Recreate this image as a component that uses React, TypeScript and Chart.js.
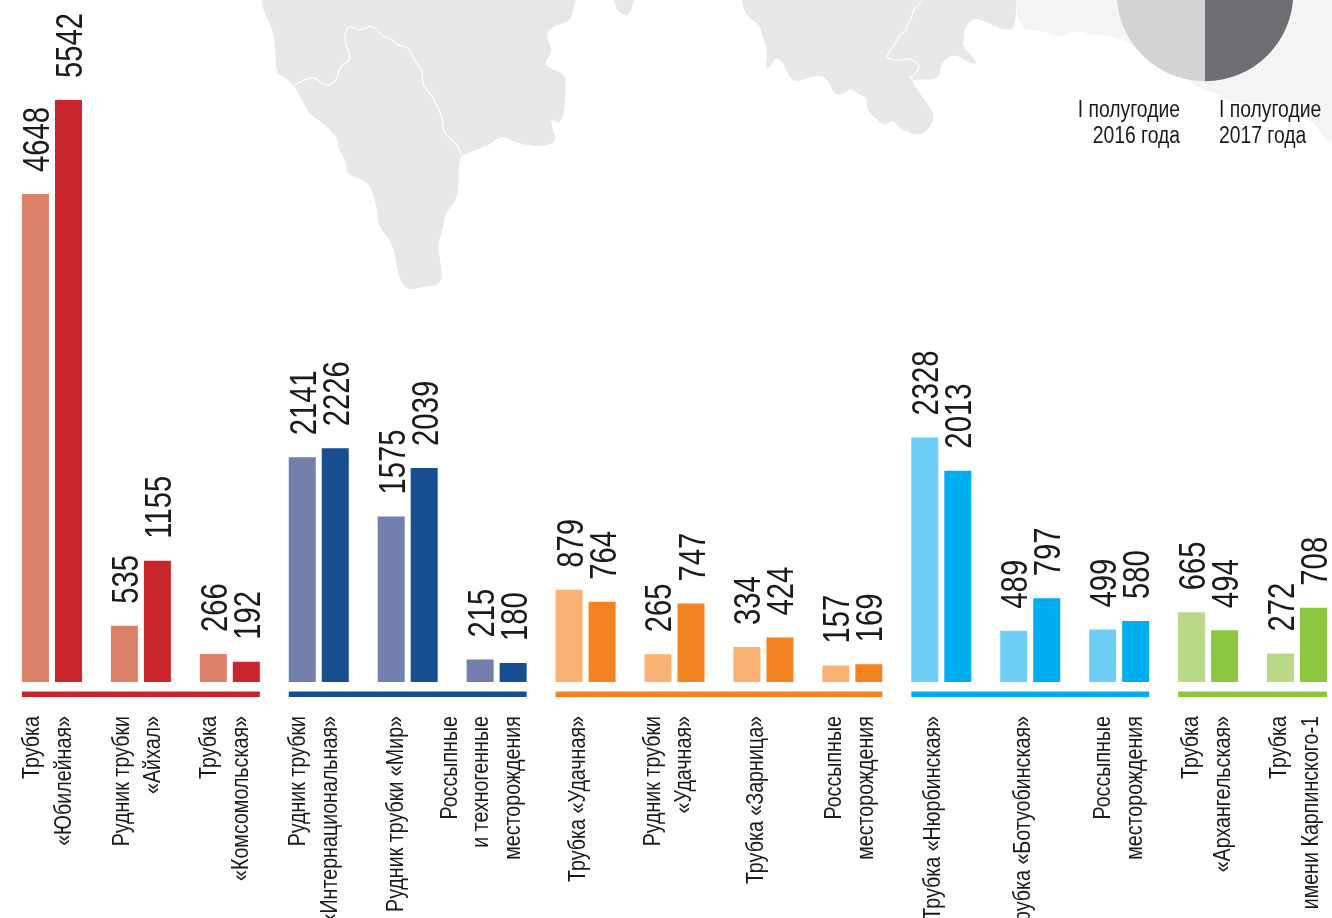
import React, { useEffect, useRef } from "react";
import { Chart, registerables } from "chart.js";

Chart.register(...registerables);

const categories: string[][] = [
  ["Трубка", "«Юбилейная»"],
  ["Рудник трубки", "«Айхал»"],
  ["Трубка", "«Комсомольская»"],
  ["Рудник трубки", "«Интернациональная»"],
  ["Рудник трубки «Мир»"],
  ["Россыпные", "и техногенные", "месторождения"],
  ["Трубка «Удачная»"],
  ["Рудник трубки", "«Удачная»"],
  ["Трубка «Зарница»"],
  ["Россыпные", "месторождения"],
  ["Трубка «Нюрбинская»"],
  ["Трубка «Ботуобинская»"],
  ["Россыпные", "месторождения"],
  ["Трубка", "«Архангельская»"],
  ["Трубка", "имени Карпинского-1"],
];
const values2016 = [4648, 535, 266, 2141, 1575, 215, 879, 265, 334, 157, 2328, 489, 499, 665, 272];
const values2017 = [5542, 1155, 192, 2226, 2039, 180, 764, 747, 424, 169, 2013, 797, 580, 494, 708];
const pieLabels = ["I полугодие 2017 года", "I полугодие 2016 года"];
const pieValues = [50, 50];
const yMax = 6495;

const groups = [
  { from: 0, to: 2, light: "#dc8068", dark: "#c9252c" },
  { from: 3, to: 5, light: "#737fad", dark: "#164e8f" },
  { from: 6, to: 9, light: "#fab274", dark: "#f58220" },
  { from: 10, to: 12, light: "#6dcff6", dark: "#00aeef" },
  { from: 13, to: 14, light: "#b9d989", dark: "#8dc63f" },
];
const colorFor = (key: "light" | "dark") =>
  categories.map((_, i) => groups.find((g) => i >= g.from && i <= g.to)![key]);

const labelShift = [-5, -4.5, -6, -6, -12.5, -16.5, -8.5, -7, -8.5, -3.5, -9, -8, -1, -2, -3];

const FONT = '"Liberation Sans Narrow", "Liberation Sans", sans-serif';
const TEXT = "#1a1a1a";

function put(
  ctx: CanvasRenderingContext2D,
  text: string,
  x: number,
  y: number,
  size: number,
  squeeze: number,
  rotated: boolean,
  align: CanvasTextAlign
) {
  ctx.save();
  ctx.translate(x, y);
  if (rotated) ctx.rotate(-Math.PI / 2);
  ctx.scale(squeeze, 1);
  ctx.font = `${size}px ${FONT}`;
  ctx.fillStyle = TEXT;
  ctx.textAlign = align;
  ctx.textBaseline = "alphabetic";
  ctx.fillText(text, 0, 0);
  ctx.restore();
}

const annotations = {
  id: "annotations",
  afterDatasetsDraw(chart: any) {
    const { ctx } = chart;
    const xs = chart.scales.x;
    const m0 = chart.getDatasetMeta(0).data;
    const m1 = chart.getDatasetMeta(1).data;

    chart.data.datasets.forEach((ds: any, d: number) => {
      chart.getDatasetMeta(d).data.forEach((bar: any, i: number) => {
        put(ctx, String(ds.data[i]), bar.x + 13.5, bar.y - 22, 37.5, 0.78, true, "left");
      });
    });

    groups.forEach((g) => {
      const l = m0[g.from].x - 13.5;
      const r = m1[g.to].x + 13.5;
      ctx.fillStyle = g.dark;
      ctx.fillRect(l, 691.5, r - l, 5.5);
    });

    categories.forEach((lines, i) => {
      const c = xs.getPixelForValue(i) + labelShift[i];
      lines.forEach((line, k) => {
        const x = c + (k - (lines.length - 1) / 2) * 31.5;
        put(ctx, line, x + 8, 716, 23, 0.855, true, "right");
      });
    });

    put(ctx, "I полугодие", 1180, 117, 23, 0.84, false, "right");
    put(ctx, "2016 года", 1180, 143, 23, 0.84, false, "right");
    put(ctx, "I полугодие", 1219, 117, 23, 0.84, false, "left");
    put(ctx, "2017 года", 1219, 143, 23, 0.84, false, "left");
  },
};

type P = [number, number];
const smooth = (pts: P[], close = true) => {
  let d = `M${pts[0][0]} ${pts[0][1]}`;
  for (let i = 1; i < pts.length - 1; i++) {
    const mx = (pts[i][0] + pts[i + 1][0]) / 2;
    const my = (pts[i][1] + pts[i + 1][1]) / 2;
    d += `Q${pts[i][0]} ${pts[i][1]} ${mx} ${my}`;
  }
  const last = pts[pts.length - 1];
  d += `L${last[0]} ${last[1]}`;
  return close ? d + "Z" : d;
};

const mapLeft: P[] = [[262, -6], [262, 0], [262.7, 10], [275, 33], [276, 74], [280.7, 74], [294, 85], [300, 97], [310, 115], [321.7, 122], [338, 137], [338, 148], [346.7, 163], [346.7, 175], [361.7, 178], [371.7, 188], [377, 208], [378, 227], [393, 243], [397, 270], [403, 287], [413, 290], [420, 287], [442.7, 285], [440.7, 263], [437.7, 245], [442.7, 230], [445, 213], [459, 198], [458, 157], [470, 152], [491.7, 144], [498, 137], [506.7, 137], [513, 142], [533, 146], [540, 146], [558, 143], [550, 122], [553, 118], [558, 124], [564, 117], [566, 80], [563, 73], [547, 67], [545, 62], [553, 52], [546, 37], [550, 27], [570, 22], [574, 8], [577, -6]];
const mapBlob: P[] = [[614, -6], [615, 10], [625, 16], [631, 13], [635, -6]];
const mapRight: P[] = [[742, -6], [742, 13], [760, 25], [763, 37], [768, 53], [765, 68], [770, 68], [775, 58], [782, 60], [792, 83], [808, 78], [817, 75], [827, 78], [835, 96], [845, 93], [850, 88], [858, 94], [868, 98], [866, 107], [873, 117], [885, 126], [893, 119], [900, 130], [923, 137], [937, 117], [923, 98], [912, 82], [913, 79], [940, 80], [940, 63], [955, 53], [972, 65], [978, 62], [961, 45], [965, 38], [963, 32], [972, 17], [987, 22], [1002, 30], [1016, 29], [1016, -6]];
const mapPale: P[] = [[1016, -6], [1016, 29], [1040, 30], [1060, 38], [1075, 30], [1093, 35], [1117, 35], [1192, 83], [1203, 90], [1217, 93], [1230, 103], [1277, 103], [1293, 112], [1315, 123], [1325, 140], [1340, 150], [1340, -6]];
const border1: P[] = [[294, 85], [313, 75], [320, 83], [330, 86], [338, 78], [339, 67], [351, 60], [348, 50], [344, 38], [347, 28], [352, 26], [360, 31], [373, 24], [382, 37], [390, 37], [398, 46], [409, 47], [415, 62], [423, 70], [422, 85], [432, 95], [438, 108], [443, 120], [443, 133], [458, 145], [461, 155]];
const border2: P[] = [[925, -2], [913, 9], [912, 18], [906, 27], [906, 32], [900, 33], [895, 45], [884, 58], [900, 61], [907, 58], [917, 62], [920, 67], [914, 76], [909, 77], [913, 79]];

export default function App() {
  const barRef = useRef<HTMLCanvasElement>(null);
  const pieRef = useRef<HTMLCanvasElement>(null);
  useEffect(() => {
    const bar = new Chart(barRef.current!, {
      type: "bar",
      data: {
        labels: categories.map((c) => c.join(" ")),
        datasets: [
          { label: "I полугодие 2016 года", data: values2016, backgroundColor: colorFor("light"), categoryPercentage: 66 / 88.93, barPercentage: 27 / 33 },
          { label: "I полугодие 2017 года", data: values2017, backgroundColor: colorFor("dark"), categoryPercentage: 66 / 88.93, barPercentage: 27 / 33 },
        ],
      },
      options: {
        animation: false,
        responsive: false,
        layout: { padding: { left: 7.5, right: 8.5, top: 0, bottom: 236 } },
        plugins: { legend: { display: false }, tooltip: { enabled: false } },
        scales: {
          x: { display: false },
          y: { display: false, min: 0, max: yMax },
        },
      },
      plugins: [annotations],
    });
    const pie = new Chart(pieRef.current!, {
      type: "pie",
      data: {
        labels: pieLabels,
        datasets: [{ data: pieValues, backgroundColor: ["#6d6e71", "#d1d3d4"], borderWidth: 0 }],
      },
      options: {
        animation: false,
        responsive: false,
        radius: 88.3,
        plugins: { legend: { display: false }, tooltip: { enabled: false } },
      },
    });
    return () => {
      bar.destroy();
      pie.destroy();
    };
  }, []);
  return (
    <div style={{ position: "fixed", left: 0, top: 0, width: 1332, height: 918, overflow: "hidden", background: "#fff" }}>
      <svg width={1332} height={918} style={{ position: "absolute", left: 0, top: 0 }}>
        <path d={smooth(mapPale)} fill="#f4f4f5" />
        <path d={smooth(mapLeft)} fill="#e6e7e8" />
        <path d={smooth(mapBlob)} fill="#e6e7e8" />
        <path d={smooth(mapRight)} fill="#e6e7e8" />
        <path d={smooth(border1, false)} fill="none" stroke="#fff" strokeWidth={1.2} />
        <path d={smooth(border2, false)} fill="none" stroke="#fff" strokeWidth={1.2} />
      </svg>
      <canvas ref={pieRef} width={180} height={180} style={{ position: "absolute", left: 1115, top: -97, width: 180, height: 180 }} />
      <canvas ref={barRef} width={1350} height={918} style={{ position: "absolute", left: 0, top: 0, width: 1350, height: 918 }} />
    </div>
  );
}
